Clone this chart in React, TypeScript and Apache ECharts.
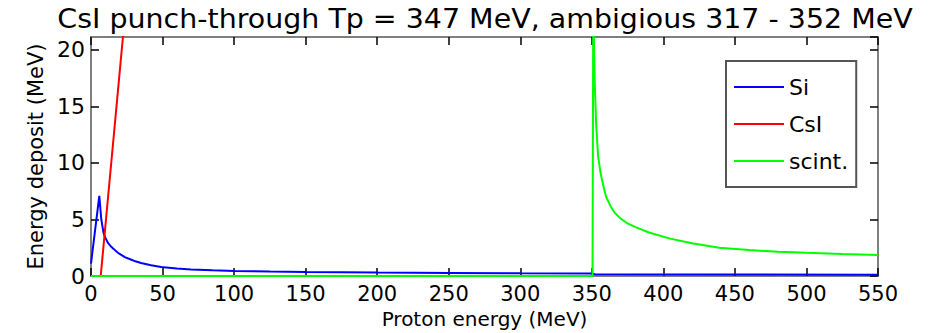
import React, { useEffect, useRef } from "react";
import * as echarts from "echarts";

// Proton energy (MeV) / energy deposit (MeV) samples
const siEnergy = [0, 5.8, 7.2, 8.8, 10, 12, 14, 15.8, 18, 20, 24, 27, 31, 35, 42, 49, 60, 70, 85, 100, 125, 150, 200, 250, 300, 350, 352, 450, 550];
const siDeposit = [1.1, 7.1, 5.0, 3.8, 3.4, 2.9, 2.6, 2.4, 2.15, 1.95, 1.65, 1.5, 1.3, 1.15, 0.95, 0.8, 0.66, 0.58, 0.5, 0.45, 0.4, 0.36, 0.3, 0.27, 0.24, 0.22, 0.15, 0.13, 0.12];

const csiEnergy = [0, 6.8, 25];
const csiDeposit = [0, 0, 24.8];

const scintEnergy = [0, 350.5, 351, 352, 353, 354.4, 356, 358, 360, 363, 366, 370, 375, 381, 390, 404, 420, 439, 460, 480, 500, 525, 550];
const scintDeposit = [0, 0, 24, 17.3, 13.5, 10.6, 9.2, 8.0, 7.0, 6.2, 5.6, 5.1, 4.65, 4.3, 3.85, 3.33, 2.9, 2.5, 2.3, 2.15, 2.05, 1.95, 1.86];

const seriesNames = ["Si", "CsI", "scint."];
const seriesColors = ["#0000ff", "#ff0000", "#00ff00"];

const titleText = "CsI punch-through Tp = 347 MeV, ambigious 317 - 352 MeV";
const xName = "Proton energy (MeV)";
const yName = "Energy deposit (MeV)";

const xMin = 0;
const xMax = 550;
const xStep = 50;
const yMin = 0;
const yMax = 21.15;
const yStep = 5;

const pairs = (xs: number[], ys: number[]) => xs.map((x, i) => [x, ys[i]]);

const FONT = "DejaVu Sans";
const frameColor = "#7f7f7f";

export default function App() {
  const ref = useRef<HTMLDivElement>(null);
  useEffect(() => {
    document.body.style.margin = "0";
    const chart = echarts.init(ref.current!, null, { renderer: "svg" });
    const tick = { show: true, inside: true, length: 8, lineStyle: { color: "#000", width: 1.5 } };
    const line = { show: true, onZero: false, lineStyle: { color: frameColor, width: 2 } };
    const dataSets = [
      pairs(siEnergy, siDeposit),
      pairs(csiEnergy, csiDeposit),
      pairs(scintEnergy, scintDeposit),
    ];
    chart.setOption({
      animation: false,
      backgroundColor: "#fff",
      graphic: [
        {
          type: "text",
          x: 485,
          y: 19,
          scaleX: 1.095,
          style: {
            text: titleText,
            fontFamily: FONT,
            fontSize: 26,
            fill: "#000",
            align: "center",
            verticalAlign: "middle",
          },
        },
      ],
      grid: { left: 91, right: 51, top: 37, bottom: 57, containLabel: false, outerBoundsMode: "none" },
      legend: {
        orient: "vertical",
        left: 726,
        top: 61,
        padding: [15, 8, 15, 8],
        itemGap: 15,
        itemWidth: 50,
        itemHeight: 2,
        icon: "rect",
        backgroundColor: "#fff",
        borderColor: "#555",
        borderWidth: 2,
        textStyle: { fontFamily: FONT, fontSize: 22, color: "#000", lineHeight: 22 },
        data: seriesNames,
      },
      xAxis: [
        {
          type: "value",
          min: xMin,
          max: xMax,
          interval: xStep,
          position: "bottom",
          name: xName,
          nameLocation: "middle",
          nameGap: 29,
          nameTextStyle: { fontFamily: FONT, fontSize: 20, color: "#000", lineHeight: 20 },
          axisLine: line,
          axisTick: tick,
          splitLine: { show: false },
          axisLabel: { margin: 8, fontFamily: FONT, fontSize: 21, color: "#000", lineHeight: 20 },
        },
        {
          type: "value",
          min: xMin,
          max: xMax,
          interval: xStep,
          position: "top",
          axisLine: line,
          axisTick: tick,
          splitLine: { show: false },
          axisLabel: { show: false },
        },
      ],
      yAxis: [
        {
          type: "value",
          min: yMin,
          max: yMax,
          interval: yStep,
          position: "left",
          name: yName,
          nameLocation: "middle",
          nameGap: 22,
          nameTextStyle: { fontFamily: FONT, fontSize: 21, color: "#000" },
          axisLine: line,
          axisTick: tick,
          splitLine: { show: false },
          axisLabel: { margin: 6, showMaxLabel: false, fontFamily: FONT, fontSize: 22, color: "#000", padding: [6, 0, 0, 0] },
        },
        {
          type: "value",
          min: yMin,
          max: yMax,
          interval: yStep,
          position: "right",
          axisLine: line,
          axisTick: tick,
          splitLine: { show: false },
          axisLabel: { show: false },
        },
      ],
      series: seriesNames.map((name, i) => ({
        name,
        type: "line",
        xAxisIndex: 0,
        yAxisIndex: 0,
        data: dataSets[i],
        symbol: "none",
        showSymbol: false,
        clip: true,
        lineStyle: { color: seriesColors[i], width: 2 },
        itemStyle: { color: seriesColors[i] },
      })),
    });
    return () => chart.dispose();
  }, []);
  return <div ref={ref} style={{ width: 929, height: 333 }} />;
}
